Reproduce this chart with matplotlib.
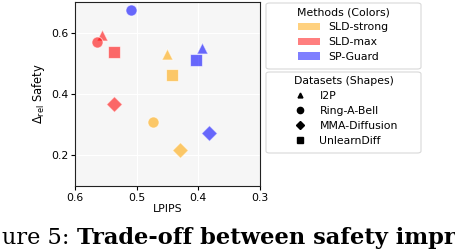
import matplotlib
matplotlib.use('Agg')
import matplotlib.pyplot as plt
from matplotlib.lines import Line2D
from matplotlib.patches import Patch, FancyBboxPatch

methods = ['SLD-strong', 'SLD-max', 'SP-Guard']
method_colors = ['orange', 'red', 'blue']
datasets = ['I2P', 'Ring-A-Bell', 'MMA-Diffusion', 'UnlearnDiff']
dataset_markers = ['^', 'o', 'D', 's']

# values per dataset: I2P, Ring-A-Bell, MMA-Diffusion, UnlearnDiff
lpips_sld_strong = [0.450, 0.473, 0.429, 0.442]
safety_sld_strong = [0.532, 0.310, 0.218, 0.463]
lpips_sld_max = [0.556, 0.564, 0.537, 0.536]
safety_sld_max = [0.594, 0.570, 0.368, 0.537]
lpips_sp_guard = [0.394, 0.509, 0.382, 0.404]
safety_sp_guard = [0.550, 0.673, 0.273, 0.510]

all_lpips = [lpips_sld_strong, lpips_sld_max, lpips_sp_guard]
all_safety = [safety_sld_strong, safety_sld_max, safety_sp_guard]

FS = 7.8
plt.rcParams['font.size'] = FS
W, H = 456, 250
fig = plt.figure(figsize=(W / 100, H / 100), dpi=100)
ax = fig.add_axes([75 / W, 1 - 186 / H, 185 / W, 184 / H])
ax.set_facecolor('#f6f6f6')
ax.grid(True, color='white', linewidth=0.8)
ax.set_axisbelow(True)

for m in range(len(methods)):
    for d in range(len(datasets)):
        ax.scatter(all_lpips[m][d], all_safety[m][d], s=64,
                   marker=dataset_markers[d], color=method_colors[m],
                   alpha=0.58, edgecolors='white', linewidths=0.8, zorder=3)

ax.set_xlim(0.6, 0.3)
ax.set_ylim(0.1, 0.7)
ax.set_xticks([0.6, 0.5, 0.4, 0.3])
ax.set_yticks([0.2, 0.4, 0.6])
ax.tick_params(length=3, pad=2)
ax.set_xlabel('LPIPS', labelpad=1)
ax.set_ylabel(r'$\Delta_{\rm rel}$ Safety', labelpad=3, fontsize=8.3)
for sp in ax.spines.values():
    sp.set_color('#222222')
    sp.set_linewidth(0.8)

# legend frames
def frame(x0, y0, x1, y1):
    fig.patches.append(FancyBboxPatch((x0 / W, 1 - y1 / H), (x1 - x0) / W, (y1 - y0) / H,
                                      boxstyle='round,pad=0,rounding_size=0.008',
                                      transform=fig.transFigure, facecolor='white',
                                      edgecolor='#d8d8d8', linewidth=0.8))

frame(266, 3, 421, 69)
frame(266, 72, 421, 153)

color_handles = [Patch(facecolor=c, alpha=0.5, label=n) for n, c in zip(methods, method_colors)]
shape_handles = [Line2D([], [], marker=mk, color='black', linestyle='none',
                        markersize=4.5 if mk != '^' else 3.5, label=n)
                 for n, mk in zip(datasets, dataset_markers)]

leg1 = fig.legend(handles=color_handles, title='Methods (Colors)', loc='upper center',
                  bbox_to_anchor=(343.5 / W, 1 - 3 / H), borderaxespad=0, frameon=False,
                  fontsize=FS, title_fontsize=FS, labelspacing=0.45)
leg2 = fig.legend(handles=shape_handles, title='Datasets (Shapes)', loc='upper center',
                  bbox_to_anchor=(343.5 / W, 1 - 72 / H), borderaxespad=0, frameon=False,
                  fontsize=FS, title_fontsize=FS, labelspacing=0.45)

# caption fragment below the chart
fig.text(70 / W, 6 / H, 'ure 5:', ha='right', va='baseline',
         family='DejaVu Serif', fontsize=16.2)
fig.text(77 / W, 6 / H, 'Trade-off between safety impr', ha='left', va='baseline',
         family='DejaVu Serif', fontweight='bold', fontsize=16.2)

fig.savefig('out.png', dpi=100)
